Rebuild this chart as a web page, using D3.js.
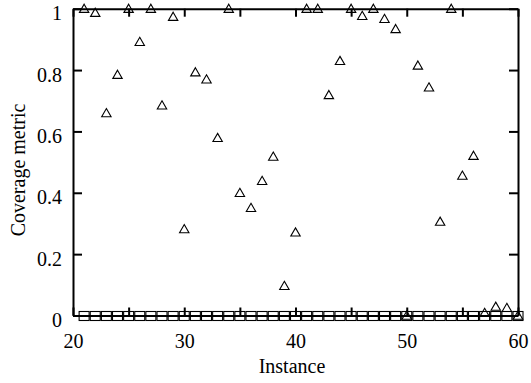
<!DOCTYPE html>
<html>
<head>
<meta charset="utf-8">
<script src="https://cdn.jsdelivr.net/npm/d3@7"></script>
<style>
  body { margin: 0; background: #fff; }
  svg text { font-family: "Liberation Serif", Times, "DejaVu Serif", serif !important; }
</style>
</head>
<body>
<svg id="chart"></svg>
<script>
// Constants
const width = 531;
const height = 383;
const margin = { left: 73, right: 13, top: 8.7, bottom: 67.5 };
const serif = "'Liberation Serif', Times, 'DejaVu Serif', serif";

// Data
const instances = d3.range(21, 61);
const triangleValues = [
  1.0, 0.987, 0.66, 0.785, 1.0, 0.892, 1.0, 0.685, 0.974, 0.282,
  0.793, 0.77, 0.579, 1.0, 0.40, 0.351, 0.439, 0.518, 0.097, 0.271,
  1.0, 1.0, 0.719, 0.83, 1.0, 0.977, 1.0, 0.967, 0.934, 0.0,
  0.815, 0.744, 0.306, 1.0, 0.456, 0.521, 0.009, 0.029, 0.025, 0.0
];
const squareValues = instances.map(() => 0);
const xTicks = [20, 25, 30, 35, 40, 45, 50, 55, 60];
const xTickLabels = [20, 30, 40, 50, 60];
const yTicks = [0, 0.2, 0.4, 0.6, 0.8, 1];

const svg = d3.select("#chart").attr("width", width).attr("height", height);

const xScale = d3.scaleLinear().domain([20, 60]).range([margin.left, width - margin.right]);
const yScale = d3.scaleLinear().domain([0, 1]).range([height - margin.bottom, margin.top]);

const fmtX = d => xTickLabels.includes(d) ? d : "";
const fmtY = d => d === 0 || d === 1 ? d3.format("d")(d) : d3.format(".1f")(d);

// bottom axis, ticks pointing inside
const gx = svg.append("g")
  .attr("transform", `translate(0,${yScale(0)})`)
  .call(d3.axisBottom(xScale).tickValues(xTicks).tickFormat(fmtX).tickSize(-8).tickSizeOuter(0).tickPadding(18));

// top axis
const gxt = svg.append("g")
  .attr("transform", `translate(0,${yScale(1)})`)
  .call(d3.axisTop(xScale).tickValues(xTicks).tickFormat("").tickSize(-8).tickSizeOuter(0));

// left axis
const gy = svg.append("g")
  .attr("transform", `translate(${xScale(20)},0)`)
  .call(d3.axisLeft(yScale).tickValues(yTicks).tickFormat(fmtY).tickSize(-9).tickSizeOuter(0).tickPadding(11));

// right axis
const gyr = svg.append("g")
  .attr("transform", `translate(${xScale(60)},0)`)
  .call(d3.axisRight(yScale).tickValues(yTicks).tickFormat("").tickSize(-9).tickSizeOuter(0));

[gx, gxt, gy, gyr].forEach(g => {
  g.attr("font-family", serif).attr("font-size", 20);
  g.selectAll("path.domain").attr("stroke", "#000").attr("stroke-width", 2);
  g.selectAll("line").attr("stroke", "#000").attr("stroke-width", 2);
  g.selectAll("text").attr("font-size", 20).attr("font-family", serif).attr("fill", "#000");
});
gy.selectAll("text").attr("dy", "0.55em");

// squares
svg.append("g").selectAll("rect")
  .data(instances.map((d, i) => ({ x: d, y: squareValues[i] })))
  .join("rect")
  .attr("x", d => xScale(d.x) - 5)
  .attr("y", d => yScale(d.y) - 4)
  .attr("width", 10)
  .attr("height", 9)
  .attr("fill", "none")
  .attr("stroke", "#000")
  .attr("stroke-width", 1.1);

// triangles
svg.append("g").selectAll("path")
  .data(instances.map((d, i) => ({ x: d, y: triangleValues[i] })))
  .join("path")
  .attr("d", "M0,-4.5L4.7,3.7L-4.7,3.7Z")
  .attr("transform", d => `translate(${xScale(d.x)},${yScale(d.y)})`)
  .attr("fill", "none")
  .attr("stroke", "#000")
  .attr("stroke-width", 1.1);

// axis titles
svg.append("text")
  .attr("x", 292).attr("y", 373)
  .attr("text-anchor", "middle")
  .attr("font-family", serif)
  .attr("font-size", 20)
  .text("Instance");

svg.append("text")
  .attr("transform", "translate(25,170) rotate(-90)")
  .attr("text-anchor", "middle")
  .attr("font-family", serif)
  .attr("font-size", 20)
  .text("Coverage metric");
</script>
</body>
</html>
